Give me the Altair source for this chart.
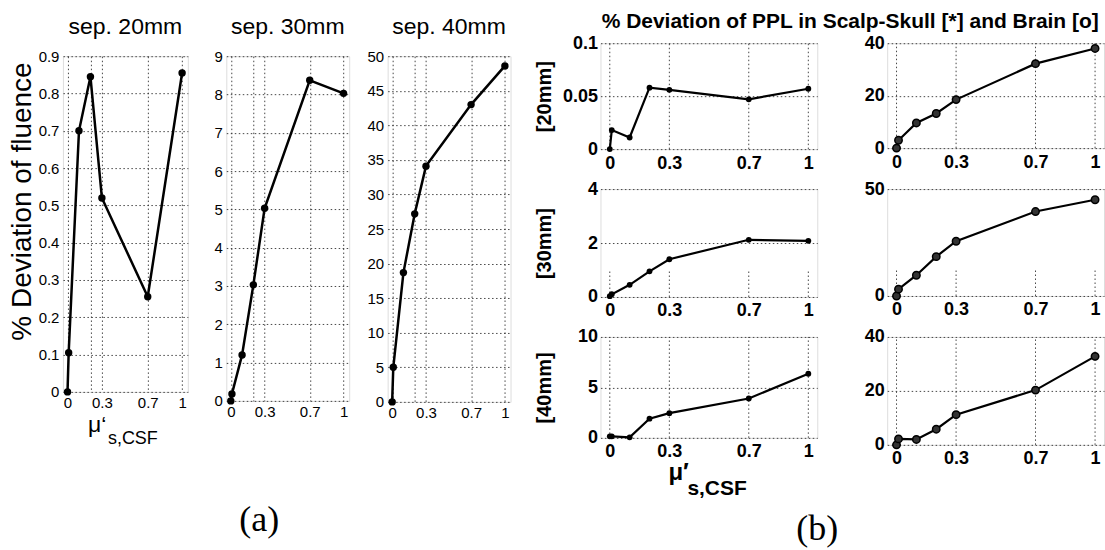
import altair as alt
import pandas as pd

FONT = "Liberation Sans"
SERIF = "Liberation Serif"
GRID = "#333333"

# ---------------- data ----------------
mu_x = [0, 0.01, 0.1, 0.2, 0.3, 0.7, 1.0]

fluence_20 = [0, 0.105, 0.70, 0.845, 0.52, 0.255, 0.855]
fluence_30 = [0, 0.18, 1.2, 3.03, 5.03, 8.37, 8.03]
fluence_40 = [0, 5.0, 18.7, 27.2, 34.1, 43.0, 48.6]

ppl_skull_20 = [0, 0.018, 0.011, 0.058, 0.056, 0.047, 0.057]
ppl_brain_20 = [0, 3.0, 9.6, 13.2, 18.5, 32.2, 38.0]
ppl_skull_30 = [0.03, 0.1, 0.45, 0.95, 1.4, 2.12, 2.08]
ppl_brain_30 = [0, 3.2, 9.7, 18.4, 25.6, 39.5, 45.0]
ppl_skull_40 = [0.15, 0.15, 0.05, 1.9, 2.45, 3.9, 6.35]
ppl_brain_40 = [0, 2.2, 2.0, 5.8, 11.2, 20.3, 32.8]

a_titles = ["sep. 20mm", "sep. 30mm", "sep. 40mm"]
a_values = [fluence_20, fluence_30, fluence_40]
a_ymax = [0.9, 9, 50]
a_yticks = [
    [0, 0.1, 0.2, 0.3, 0.4, 0.5, 0.6, 0.7, 0.8, 0.9],
    [0, 1, 2, 3, 4, 5, 6, 7, 8, 9],
    [0, 5, 10, 15, 20, 25, 30, 35, 40, 45, 50],
]
a_xticks = [0, 0.2, 0.3, 0.7, 1]
a_ylabel = "% Deviation of fluence"
a_widths = [125, 123, 123]
a_heights = [336, 345, 346]

b_title = "% Deviation of PPL in Scalp-Skull [*] and Brain [o]"
b_rows = ["[20mm]", "[30mm]", "[40mm]"]
b_xticks = [0, 0.3, 0.7, 1]
b_skull = [ppl_skull_20, ppl_skull_30, ppl_skull_40]
b_brain = [ppl_brain_20, ppl_brain_30, ppl_brain_40]
b_skull_ymax = [0.1, 4, 10]
b_brain_ymax = [40, 50, 40]
b_skull_yticks = [[0, 0.05, 0.1], [0, 2, 4], [0, 5, 10]]
b_brain_yticks = [[0, 20, 40], [0, 50], [0, 20, 40]]
b_skull_gridtop = [0.1, 1.0, 10]
b_brain_gridtop = [40, 12.5, 40]
b_heights_l = [106, 108, 101]
b_heights_r = [105, 107, 108]

mu_a = "\u03bc\u2018"
mu_b = "\u03bc\u2032"
mu_sub = "s,CSF"
label_a = "(a)"
label_b = "(b)"

FMT = "~f"


def text_layer(txt, x, y, size, weight="normal", font=FONT, align="left", baseline="alphabetic"):
    return alt.Chart(pd.DataFrame({"t": [txt]})).mark_text(
        font=font, fontSize=size, fontWeight=weight, align=align,
        baseline=baseline, color="black"
    ).encode(text="t:N", x=alt.value(x), y=alt.value(y))


# ---------------- panel (a) ----------------
def a_panel(i):
    df = pd.DataFrame({"mu": mu_x, "dev": a_values[i]})
    yaxis_kw = dict(
        values=a_yticks[i], format=FMT, grid=True, gridDash=[1.5, 2.5], gridColor=GRID,
        gridOpacity=0.9, domain=False, ticks=False, labelFont=FONT, labelFontSize=15,
        labelColor="black", labelPadding=4, labelOverlap=False,
    )
    if i == 0:
        yaxis = alt.Axis(title=a_ylabel, titleFont=FONT, titleFontSize=28, titleY=145,
                         titleFontWeight="normal", titleColor="black", titlePadding=2, **yaxis_kw)
    else:
        yaxis = alt.Axis(title=None, **yaxis_kw)
    base = alt.Chart(df).encode(
        x=alt.X("mu:Q", scale=alt.Scale(domain=[-0.04, 1.05], nice=False, zero=False),
                axis=alt.Axis(values=a_xticks, title=None,
                              labelExpr="datum.value == 0.2 ? '' : format(datum.value, '~f')",
                              grid=True, gridDash=[1.5, 2.5], gridColor=GRID, gridOpacity=0.9,
                              domain=False, ticks=False, labelFont=FONT, labelFontSize=15,
                              labelColor="black", labelPadding=4, labelFlush=False,
                              labelOverlap=False)),
        y=alt.Y("dev:Q", scale=alt.Scale(domain=[0, a_ymax[i]], nice=False, zero=False), axis=yaxis),
    )
    layers = [
        base.mark_line(color="black", strokeWidth=2.5),
        base.mark_point(filled=True, color="black", size=55, opacity=1),
        text_layer(a_titles[i], a_widths[i] / 2, -22, 23, align="center"),
    ]
    if i == 0:
        layers.append(text_layer(mu_a, 25, 376, 23))
        layers.append(text_layer(mu_sub, 45, 388, 18))
        # invisible anchor fixing the top-left corner of the whole picture
        layers.append(alt.Chart(pd.DataFrame({"a": [0]})).mark_rule(opacity=0).encode(
            x=alt.value(-62), x2=alt.value(-61), y=alt.value(-55), y2=alt.value(-54)))
    if i == 1:
        layers.append(text_layer(label_a, 33, 464, 36, font=SERIF, align="center", baseline="middle"))
    return alt.layer(*layers).properties(width=a_widths[i], height=a_heights[i])


spacer = alt.Chart(pd.DataFrame({"a": [0]})).mark_point(opacity=0).encode(
    x=alt.value(0), y=alt.value(0)
).properties(width=10, height=13, view=alt.ViewBackground(stroke="transparent"))

a_row = alt.hconcat(*[a_panel(i) for i in range(3)], spacing=38.5, bounds="flush")
A = alt.vconcat(spacer, a_row, spacing=0, bounds="flush")


# ---------------- panel (b) ----------------
def b_panel(row, col):
    vals = b_skull[row] if col == 0 else b_brain[row]
    ymax = b_skull_ymax[row] if col == 0 else b_brain_ymax[row]
    yt = b_skull_yticks[row] if col == 0 else b_brain_yticks[row]
    gtop = b_skull_gridtop[row] if col == 0 else b_brain_gridtop[row]
    h = b_heights_l[row] if col == 0 else b_heights_r[row]
    df = pd.DataFrame({"mu": mu_x, "dev": vals})
    xs = alt.Scale(domain=[-0.047, 1.045], nice=False, zero=False)
    ys = alt.Scale(domain=[0, ymax], nice=False, zero=False)
    ykw = dict(values=yt, format=FMT, grid=True, gridDash=[1.5, 2.5], gridColor=GRID,
               gridOpacity=0.9, domain=False, ticks=False, labelFont=FONT, labelFontSize=18,
               labelFontWeight="bold", labelColor="black", labelPadding=3, labelOverlap=False)
    if col == 0:
        yaxis = alt.Axis(title=b_rows[row], titleFont=FONT, titleFontSize=20, titleFontWeight="bold",
                         titleColor="black", titlePadding=6, minExtent=40, maxExtent=40, **ykw)
    else:
        yaxis = alt.Axis(title=None, **ykw)
    grid_df = pd.DataFrame({"gx": b_xticks, "g0": [0] * len(b_xticks), "g1": [gtop] * len(b_xticks)})
    grid = alt.Chart(grid_df).mark_rule(color=GRID, strokeDash=[1.5, 2.5], strokeWidth=1, opacity=0.9).encode(
        x=alt.X("gx:Q", scale=xs, axis=alt.Axis(values=b_xticks, title=None, grid=False, domain=False,
                                                  ticks=False, labelFont=FONT, labelFontSize=18,
                                                  labelFontWeight="bold", labelColor="black",
                                                  labelPadding=5, labelFlush=False, labelOverlap=False,
                                                  format=FMT)),
        y=alt.Y("g0:Q", scale=ys, axis=yaxis),
        y2="g1:Q",
    )
    base = alt.Chart(df).encode(x=alt.X("mu:Q", scale=xs), y=alt.Y("dev:Q", scale=ys))
    line = base.mark_line(color="black", strokeWidth=2.2)
    if col == 0:
        pts = base.mark_point(filled=True, color="black", size=34, opacity=1)
    else:
        pts = base.mark_point(filled=True, fill="#333333", stroke="black", strokeWidth=1.5,
                              size=55, opacity=1)
    layers = [grid, line, pts]
    if row == 0 and col == 0:
        layers.append(text_layer(b_title, 250, -15, 21, weight="bold", align="center"))
    if row == 2 and col == 0:
        layers.append(text_layer(mu_b, 68, 143, 24, weight="bold"))
        layers.append(text_layer(mu_sub, 87, 158, 21, weight="bold"))
        layers.append(text_layer(label_b, 217, 192, 36, font=SERIF, align="center", baseline="middle"))
    return alt.layer(*layers).properties(width=217, height=h)


B = alt.concat(*[b_panel(r, c) for r in range(3) for c in range(2)], columns=2,
               spacing={"row": 40, "column": 70}, bounds="flush")

chart = alt.hconcat(A, B, spacing=538, bounds="flush").properties(
    padding={"left": 0, "top": 0, "right": 0, "bottom": 0}
).configure_view(stroke="black", strokeWidth=1.5).configure(background="white")

chart.save("out.html", embed_options={"renderer": "svg", "actions": False})
